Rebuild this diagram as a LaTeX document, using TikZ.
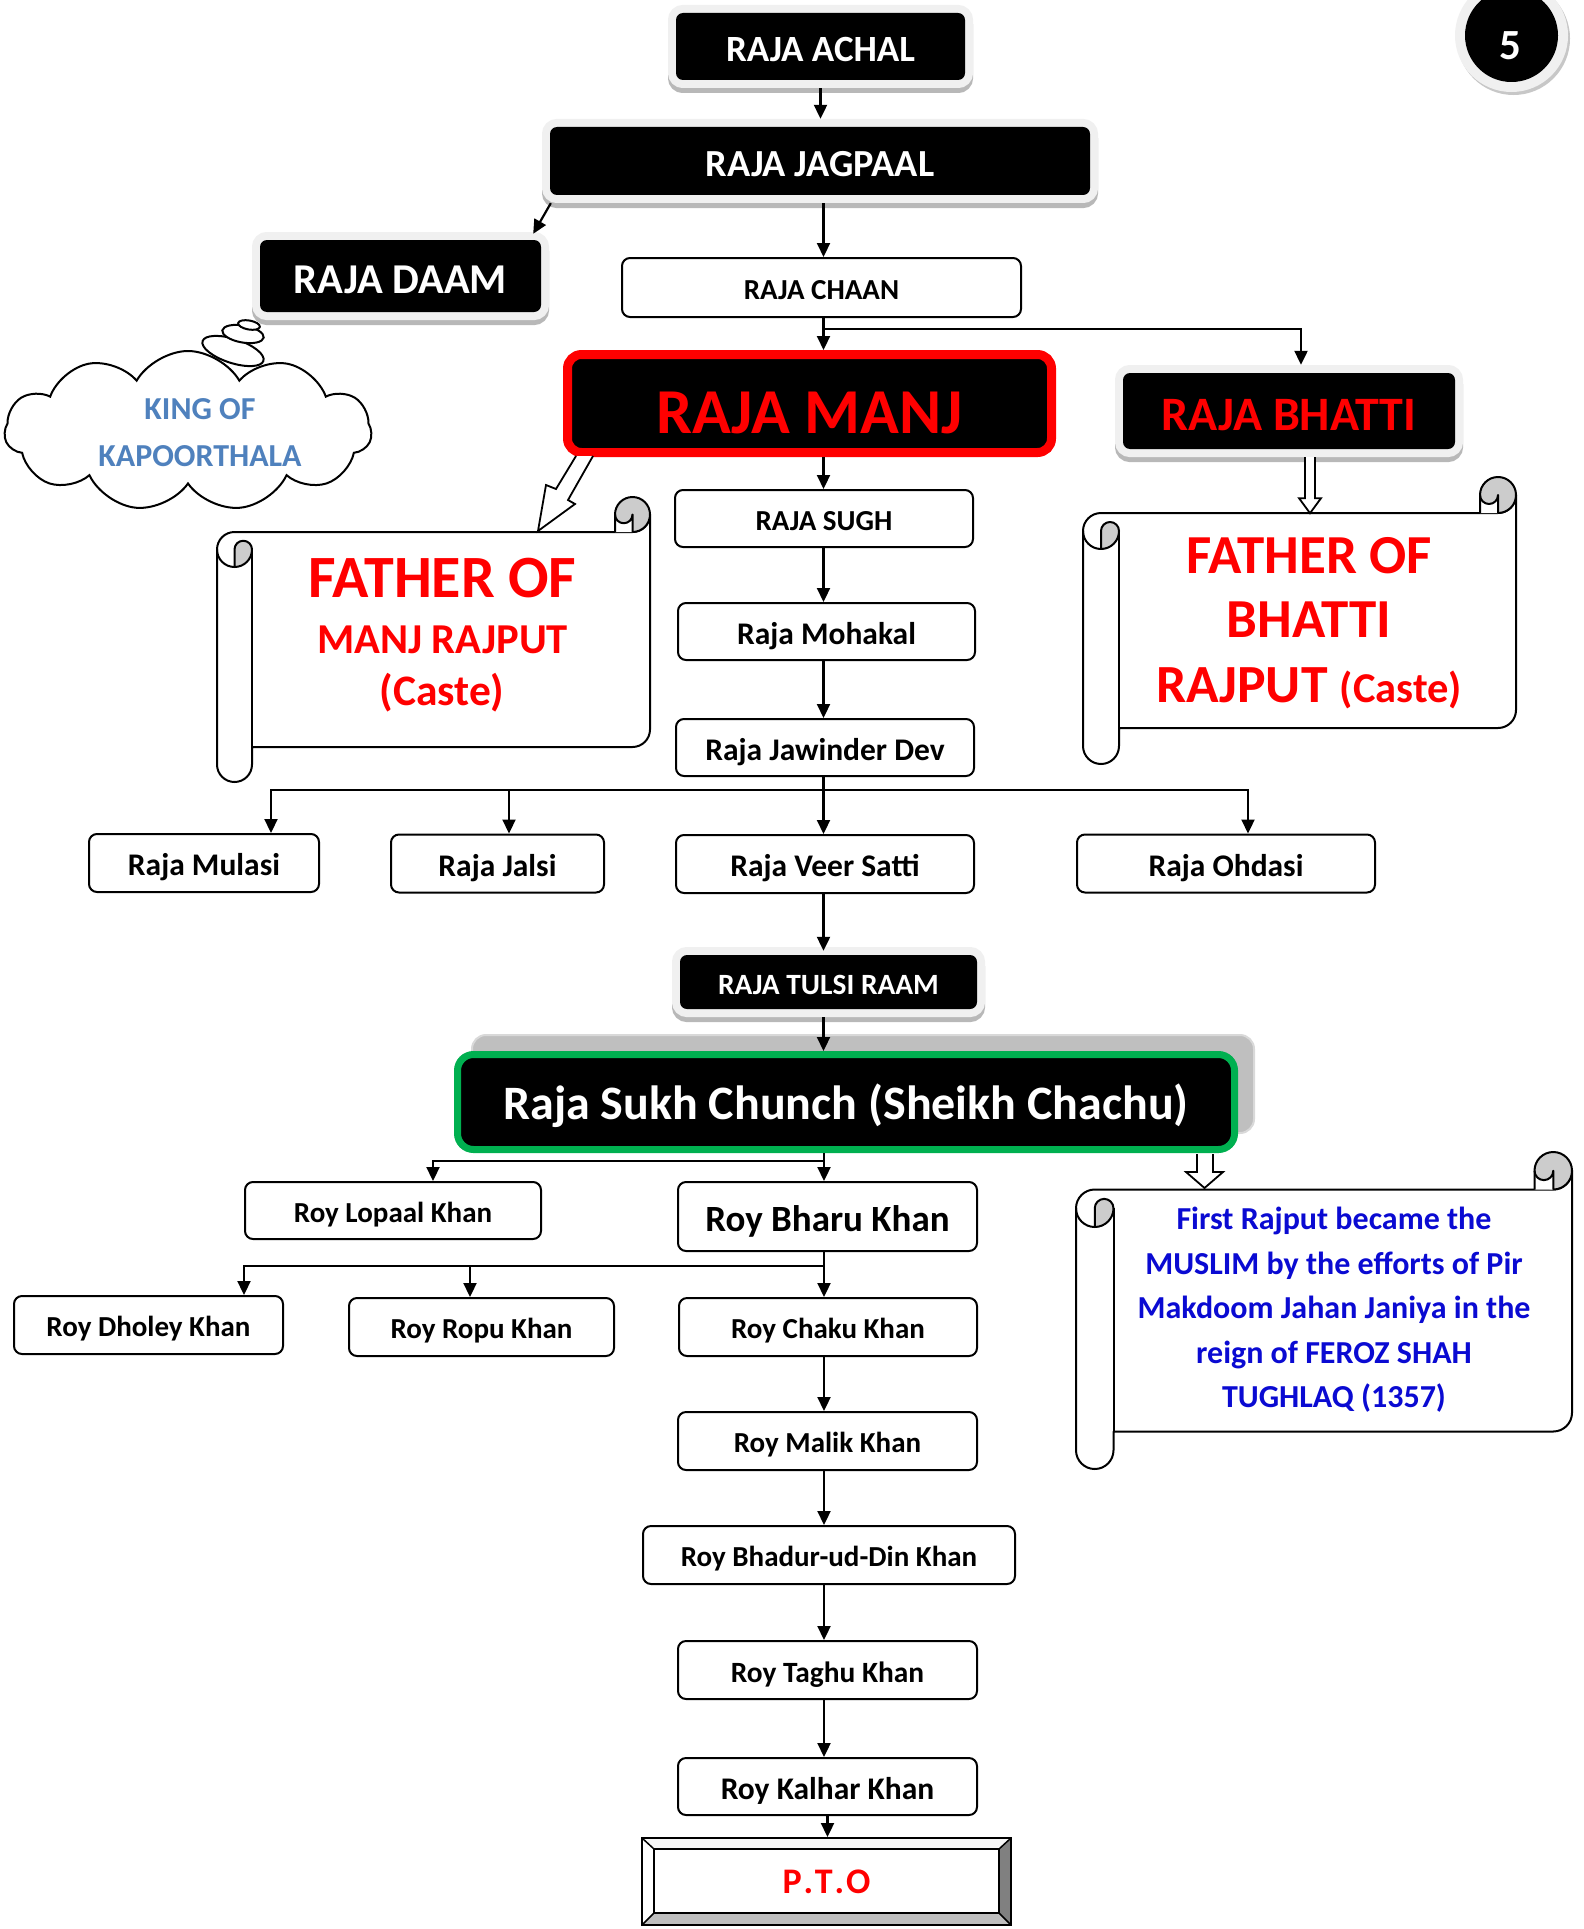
\documentclass[tikz,border=0pt]{standalone}
\usepackage{fontspec}
\setmainfont{Carlito}
\usetikzlibrary{arrows.meta,shapes.symbols,calc}
\definecolor{sgreen}{RGB}{0,176,80}
\definecolor{kingblue}{RGB}{79,129,189}
\definecolor{muslimblue}{RGB}{10,10,210}
\definecolor{rollgray}{RGB}{204,204,204}
\newcommand\fsz[1]{\fontsize{#1}{#1}\selectfont}
\newcommand\tb[1]{\raisebox{0pt}[0.9em][0.08em]{#1}}
\newcommand\hscroll[5]{%
 \pgfmathsetmacro\scL{#1}\pgfmathsetmacro\scT{#2}\pgfmathsetmacro\scR{#3}\pgfmathsetmacro\scB{#4}%
 \pgfmathsetmacro\scC{#5}\pgfmathsetmacro\scH{#5/2}\pgfmathsetmacro\scQ{#5/4}%
 \draw[scrl,fill=white] ({\scR},{\scT+\scH}) -- ({\scR},{\scB-\scC-\scH}) arc[start angle=0,end angle=90,radius=\scH]
   -- ({\scL+\scC},{\scB-\scC}) -- ({\scL+\scC},{\scB-\scH}) arc[start angle=0,end angle=180,radius=\scH]
   -- ({\scL},{\scT+\scC+\scH}) arc[start angle=180,end angle=270,radius=\scH]
   -- ({\scR-\scH},{\scT+\scC}) arc[start angle=90,end angle=0,radius=\scH] -- cycle;
 \draw[scrl] ({\scL+\scC},{\scT+\scC+\scH}) -- ({\scL+\scC},{\scB-\scC});
 \draw[scrl] ({\scL},{\scT+\scC+\scH}) arc[start angle=180,end angle=90,radius=\scH];
 \draw[scrl,fill=rollgray] ({\scL+\scH},{\scT+\scC+\scH}) -- ({\scL+\scH},{\scT+2*\scC}) arc[start angle=90,end angle=0,radius=\scH] arc[start angle=0,end angle=-180,radius=\scQ] -- cycle;
 \fill[rollgray] ({\scR-\scH},{\scT+\scH}) circle[radius=\scH];
 \fill[white] ({\scR-\scC},{\scT+\scH}) -- ({\scR-\scC},{\scT+\scC}) -- ({\scR-\scH},{\scT+\scC}) -- ({\scR-\scH},{\scT+\scH}) arc[start angle=0,end angle=180,radius=\scQ] -- cycle;
 \draw[scrl] ({\scR-\scC},{\scT+\scC}) -- ({\scR-\scC},{\scT+\scH}) arc[start angle=180,end angle=360,radius=\scH] arc[start angle=0,end angle=90,radius=\scH];
 \draw[scrl] ({\scR-\scH},{\scT+\scC}) -- ({\scR-\scH},{\scT+\scH}) arc[start angle=0,end angle=180,radius=\scQ];
}
\begin{document}
\begin{tikzpicture}[x=1pt,y=-1pt,
  wbox/.style={draw=black, line width=2pt, rounded corners=8pt, fill=white, inner sep=0pt, font=\bfseries},
  bbox/.style={fill=black, rounded corners=7pt, text=white, inner sep=0pt, font=\bfseries,
     preaction={draw=black!28, line width=16pt, transform canvas={yshift=-5pt}},
     preaction={draw=black!6, line width=16pt}},
  arr/.style={line width=2.2pt, -{Triangle[length=14pt,width=13pt]}},
  conn/.style={line width=2.2pt},
  scrl/.style={line width=2pt, line join=round, draw=black},
  hollow/.style={line width=1.8pt, fill=white, draw=black, line join=miter},
  bubble/.style={line width=2pt, fill=white, draw=black}
]
\useasboundingbox (0,0) rectangle (1583,1929);
\fill[white] (0,0) rectangle (1583,1929);

% scrolls
\hscroll{217}{497}{650}{782}{35}
\hscroll{1083}{477}{1516}{764}{36}
\hscroll{1076}{1152}{1572}{1469}{37.5}

% scroll texts
\node[anchor=base, inner sep=0pt, text=red, font=\bfseries\fsz{60}] (m1) at (442.5,597) {FATHER OF};
\node[anchor=base, inner sep=0pt, text=red, font=\bfseries\fsz{42.6}] (m2) at (442.5,653) {MANJ RAJPUT};
\node[anchor=base, inner sep=0pt, text=red, font=\bfseries\fsz{43.5}] (m3) at (442,705) {(Caste)};
\node[anchor=base, inner sep=0pt, text=red, font=\bfseries\fsz{55}] (b1) at (1309,573) {FATHER OF};
\node[anchor=base, inner sep=0pt, text=red, font=\bfseries\fsz{55}] (b2) at (1309,637) {BHATTI};
\node[anchor=base, inner sep=0pt, text=red, font=\bfseries\fsz{53.7}] (b3) at (1309,702) {RAJPUT {\fsz{42.5}(Caste)}};
\node[align=center, inner sep=0pt, text=muslimblue, font=\bfseries\fontsize{32}{44.5}\selectfont] (muslim) at (1334,1310)
  {First Rajput became the\\MUSLIM by the efforts of Pir\\Makdoom Jahan Janiya in the\\reign of FEROZ SHAH\\TUGHLAQ (1357)};

% cloud
\node[cloud, cloud puffs=11, cloud puff arc=120, cloud ignores aspect, draw, line width=2pt, fill=white,
      minimum width=367pt, minimum height=160pt, inner sep=0pt] (cloud) at (188,431) {};
\draw[bubble, rotate around={-18:(233,351)}] (233,351) ellipse[x radius=32, y radius=12];
\draw[bubble, rotate around={-10:(243,334)}] (243,334) ellipse[x radius=21, y radius=8.5];
\draw[bubble, rotate around={-10:(249,325)}] (249,325) ellipse[x radius=11, y radius=4.5];
\node[text=kingblue, align=center, inner sep=0pt, font=\bfseries\fontsize{32}{47}\selectfont] (king) at (200,433) {KING OF\\KAPOORTHALA};

% page number
\node[circle, fill=black, inner sep=0pt, minimum size=93pt,
  preaction={draw=black!22, line width=20pt, transform canvas={shift={(2pt,-3pt)}}},
  preaction={draw=black!6, line width=20pt}] (five) at (1511.5,35.5) {};
\node[text=white, inner sep=0pt, font=\bfseries\fsz{43}] (fivetxt) at (1510,46) {5};

% main nodes
\node[bbox, minimum width=289pt, minimum height=67pt, font=\bfseries\fsz{37}] (achal) at (820.5,46.5) {\tb{RAJA ACHAL}};
\node[bbox, minimum width=540pt, minimum height=68pt, font=\bfseries\fsz{38.3}] (jagpaal) at (820,161) {\tb{RAJA JAGPAAL}};
\node[bbox, minimum width=281pt, minimum height=72pt, font=\bfseries\fsz{42.5}] (daam) at (400.5,276) {\tb{RAJA DAAM}};
\node[wbox, minimum width=399pt, minimum height=59pt, font=\bfseries\fsz{29}] (chaan) at (821.5,287.5) {\tb{RAJA CHAAN}};
\node[fill=black, draw=red, line width=9pt, rounded corners=14pt, inner sep=0pt, text=red,
      minimum width=484pt, minimum height=98pt, font=\bfseries\fsz{64}] (manj) at (809.5,403.5) {\raisebox{0pt}[1.02em][0.08em]{RAJA MANJ}};
\node[bbox, minimum width=332pt, minimum height=76pt, text=red, font=\bfseries\fsz{48}] (bhatti) at (1289,411) {\tb{RAJA BHATTI}};
\node[wbox, minimum width=298pt, minimum height=57pt, font=\bfseries\fsz{29}] (sugh) at (824,518.5) {\tb{RAJA SUGH}};
\node[wbox, minimum width=297pt, minimum height=57pt, font=\bfseries\fsz{31.5}] (mohakal) at (826.5,631.5) {\tb{Raja Mohakal}};
\node[wbox, minimum width=298pt, minimum height=57pt, font=\bfseries\fsz{31.5}] (jaw) at (825,747.5) {\tb{Raja Jawinder Dev}};
\node[wbox, minimum width=230pt, minimum height=58pt, font=\bfseries\fsz{31.5}] (mulasi) at (204,863) {\tb{Raja Mulasi}};
\node[wbox, minimum width=213pt, minimum height=58pt, font=\bfseries\fsz{31.5}] (jalsi) at (497.5,863.5) {\tb{Raja Jalsi}};
\node[wbox, minimum width=298pt, minimum height=58pt, font=\bfseries\fsz{31.5}] (veer) at (825,864) {\tb{Raja Veer Satti}};
\node[wbox, minimum width=298pt, minimum height=58pt, font=\bfseries\fsz{31.5}] (ohdasi) at (1226,863.5) {\tb{Raja Ohdasi}};
\node[bbox, minimum width=297pt, minimum height=54pt, font=\bfseries\fsz{29.4}] (tulsi) at (828.5,982) {\tb{RAJA TULSI RAAM}};
\node[fill=black!25, draw=black!15, line width=2pt, rounded corners=14pt, inner sep=0pt,
      minimum width=782pt, minimum height=98pt] (sukhback) at (863,1084) {};
\node[fill=black, draw=sgreen, line width=7pt, rounded corners=16pt, inner sep=0pt, text=white,
      minimum width=777pt, minimum height=95pt, font=\bfseries\fsz{48}] (sukh) at (846,1102) {\raisebox{0pt}[0.8em][0.08em]{Raja Sukh Chunch (Sheikh Chachu)}};
\node[wbox, minimum width=296pt, minimum height=57pt, font=\bfseries\fsz{29}] (lopaal) at (393,1210.5) {\tb{Roy Lopaal Khan}};
\node[wbox, minimum width=299pt, minimum height=69pt, font=\bfseries\fsz{37}] (bharu) at (827.5,1216.5) {\tb{Roy Bharu Khan}};
\node[wbox, minimum width=269pt, minimum height=58pt, font=\bfseries\fsz{29}] (dholey) at (148.5,1325) {\tb{Roy Dholey Khan}};
\node[wbox, minimum width=265pt, minimum height=58pt, font=\bfseries\fsz{29}] (ropu) at (481.5,1327) {\tb{Roy Ropu Khan}};
\node[wbox, minimum width=298pt, minimum height=58pt, font=\bfseries\fsz{29}] (chaku) at (828,1327) {\tb{Roy Chaku Khan}};
\node[wbox, minimum width=299pt, minimum height=58pt, font=\bfseries\fsz{29}] (malik) at (827.5,1441) {\tb{Roy Malik Khan}};
\node[wbox, minimum width=372pt, minimum height=58pt, font=\bfseries\fsz{29}] (bhadur) at (829,1555) {\tb{Roy Bhadur-ud-Din Khan}};
\node[wbox, minimum width=299pt, minimum height=58pt, font=\bfseries\fsz{29.4}] (taghu) at (827.5,1670) {\tb{Roy Taghu Khan}};
\node[wbox, minimum width=299pt, minimum height=57pt, font=\bfseries\fsz{31.5}] (kalhar) at (827.5,1786.5) {\tb{Roy Kalhar Khan}};
\node[draw=black, line width=2pt, fill=white, inner sep=0pt, minimum width=369pt, minimum height=87pt,
      text=red, font=\bfseries\fsz{36},
      path picture={
        \coordinate (pA) at (path picture bounding box.north west);
        \coordinate (pB) at (path picture bounding box.north east);
        \coordinate (pC) at (path picture bounding box.south east);
        \coordinate (pD) at (path picture bounding box.south west);
        \coordinate (qa) at ([shift={(12,11)}]pA);
        \coordinate (qb) at ([shift={(-12,11)}]pB);
        \coordinate (qc) at ([shift={(-12,-12)}]pC);
        \coordinate (qd) at ([shift={(12,-12)}]pD);
        \fill[black!3] (pA) -- (pB) -- (qb) -- (qa) -- cycle;
        \fill[white] (pA) -- (qa) -- (qd) -- (pD) -- cycle;
        \fill[black!50] (pB) -- (pC) -- (qc) -- (qb) -- cycle;
        \fill[black!25] (pD) -- (qd) -- (qc) -- (pC) -- cycle;
        \draw[line width=2pt] (qa) rectangle (qc);
        \draw[line width=1.5pt] (pA) -- (qa) (pB) -- (qb) (pC) -- (qc) (pD) -- (qd);
      }] (pto) at (826.5,1881.5) {P\kern1.8pt.\kern1.8pt T\kern1.8pt.\kern1.8pt O};

% hollow arrows
\begin{scope}[shift={(manj.south west)}]
\draw[hollow] (13,-1) -- (-7,32) -- (-17,28) -- (-25,74) -- (12,47) -- (5,43) -- (30,-1);
\end{scope}
\begin{scope}[shift={(bhatti.south)}]
\draw[hollow] (16,8) -- (16,49) -- (10,49) -- (21,64) -- (32,49) -- (26,49) -- (26,8);
\end{scope}
\begin{scope}[shift={(sukh.south)}]
\draw[hollow] (351,1) -- (351,19) -- (340,19) -- (358.5,35) -- (377,19) -- (367,19) -- (367,1);
\end{scope}

% connectors
\coordinate (spine) at (823.5,0);
\draw[arr, shorten <=8pt, shorten >=8pt] (achal.south) -- (achal.south |- jagpaal.north);
\draw[arr] ([shift={(1,8)}]jagpaal.south west) -- ([shift={(-8,-6)}]daam.north east);
\draw[arr, shorten <=8pt] (jagpaal.south -| spine) -- (chaan.north -| spine);
\draw[arr] (chaan.south -| spine) -- (manj.north -| spine);
\coordinate (j1) at (823.5,329);
\draw[arr, shorten >=8pt] (j1) -| ([xshift=12pt]bhatti.north);
\draw[arr] (manj.south -| spine) -- (sugh.north -| spine);
\draw[arr] (sugh.south -| spine) -- (mohakal.north -| spine);
\draw[arr] (mohakal.south -| spine) -- (jaw.north -| spine);
\coordinate (j2) at (823.5,790);
\draw[conn] (jaw.south -| spine) -- (j2);
\draw[arr] (j2) -- (veer.north -| j2);
\draw[arr] (j2) -| ([xshift=67pt]mulasi.north);
\draw[arr] (j2) -| ([xshift=11.5pt]jalsi.north);
\draw[arr] (j2) -| ([xshift=22pt]ohdasi.north);
\draw[arr, shorten >=4pt] (veer.south -| spine) -- (tulsi.north -| spine);
\draw[arr, shorten <=8pt] (tulsi.south -| spine) -- (sukh.north -| spine);
\coordinate (j3) at (824,1161);
\draw[conn] (sukh.south -| j3) -- (j3);
\draw[arr] (j3) -| ([xshift=40pt]lopaal.north);
\draw[arr] (j3) -- (bharu.north -| j3);
\coordinate (j4) at (824,1266);
\draw[conn] (bharu.south -| j4) -- (j4);
\draw[arr] (j4) -| ([xshift=95.5pt]dholey.north);
\draw[arr] (j4) -| ([xshift=-11.5pt]ropu.north);
\draw[arr] (j4) -- (chaku.north -| j4);
\draw[arr] (chaku.south -| j4) -- (malik.north -| j4);
\draw[arr] (malik.south -| j4) -- (bhadur.north -| j4);
\draw[arr] (bhadur.south -| j4) -- (taghu.north -| j4);
\draw[arr] (taghu.south -| j4) -- (kalhar.north -| j4);
\draw[arr] (kalhar.south) -- (pto.north -| kalhar.south);
\end{tikzpicture}
\end{document}
